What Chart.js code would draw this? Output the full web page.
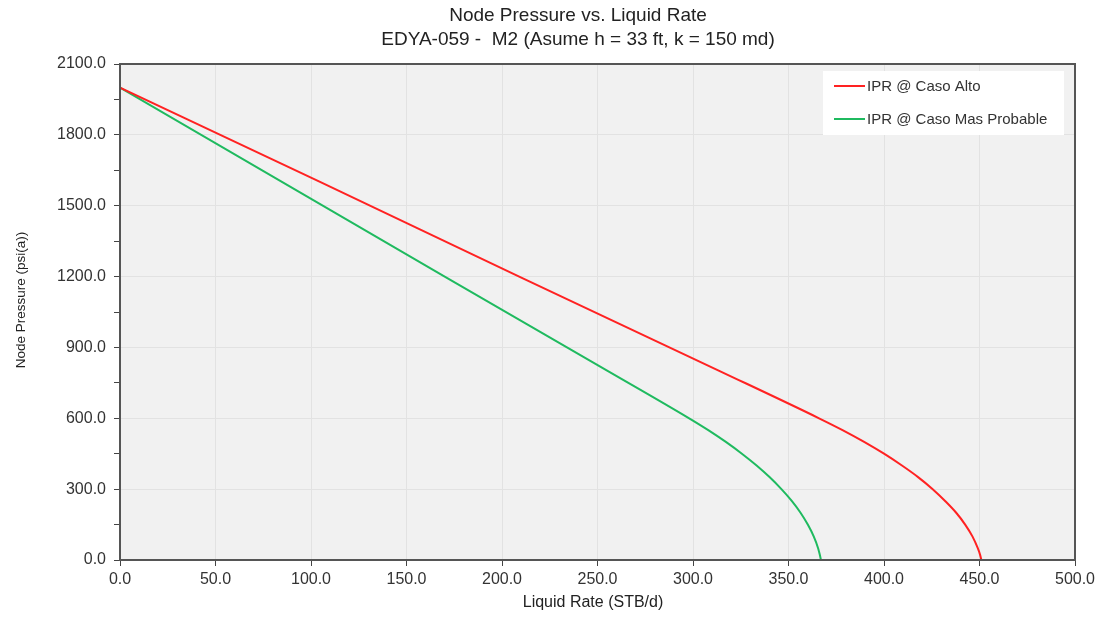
<!DOCTYPE html>
<html>
<head>
<meta charset="utf-8">
<script src="https://cdn.jsdelivr.net/npm/chart.js@4.4.1/dist/chart.umd.min.js"></script>
<style>
  html, body { margin: 0; padding: 0; background: #fff; }
  #wrap { width: 1103px; height: 618px; position: relative; }
</style>
</head>
<body>
<div id="wrap"><canvas id="ipr"></canvas></div>
<script>
  // IPR curves (rate STB/d, pressure psi(a))
  const TITLE_LINES = ['Node Pressure vs. Liquid Rate', 'EDYA-059 -  M2 (Asume h = 33 ft, k = 150 md)'];
  const X_TITLE = 'Liquid Rate (STB/d)';
  const Y_TITLE = 'Node Pressure (psi(a))';

  const PRESSURE = [2000, 1600, 1200, 800, 600, 550, 500, 450, 400, 350, 300, 250, 200, 150, 100, 50, 25, 0];
  const RATE_ALTO = [0, 105, 209, 314, 366, 378.3, 389.6, 400, 409.4, 418, 425.5, 432, 437.8, 442.5, 446.3, 449.1, 450.2, 451];
  const RATE_PROBABLE = [0, 85, 170, 255.5, 298, 308, 317.2, 325.6, 333.3, 340.2, 346.3, 351.7, 356.3, 360.1, 363.2, 365.5, 366.3, 367];

  const SERIES = [
    { label: 'IPR @ Caso Alto', rates: RATE_ALTO, color: '#ff2222' },
    { label: 'IPR @ Caso Mas Probable', rates: RATE_PROBABLE, color: '#1fba5f' },
  ];

  const FONT = 'Arial, "Liberation Sans", sans-serif';
  const fmt1 = v => Number(v).toFixed(1);

  // gray plot background + frame, titles, inner legend
  const decor = {
    id: 'decor',
    beforeDraw(chart) {
      const { ctx, chartArea: a } = chart;
      ctx.save();
      ctx.fillStyle = '#f1f1f1';
      ctx.fillRect(a.left, a.top, a.right - a.left, a.bottom - a.top);
      ctx.restore();
    },
    afterDraw(chart) {
      const { ctx, chartArea: a } = chart;
      ctx.save();
      ctx.strokeStyle = '#555';
      ctx.lineWidth = 2;
      ctx.strokeRect(a.left, a.top, a.right - a.left, a.bottom - a.top);

      ctx.fillStyle = '#222';
      ctx.font = '19px ' + FONT;
      ctx.textAlign = 'center';
      ctx.textBaseline = 'middle';
      TITLE_LINES.forEach((t, i) => ctx.fillText(t, 578, 16 + i * 24));

      ctx.font = '16px ' + FONT;
      ctx.fillText(X_TITLE, 593, 603);
      ctx.save();
      ctx.translate(21, 300);
      ctx.rotate(-Math.PI / 2);
      ctx.font = '13.5px ' + FONT;
      ctx.fillText(Y_TITLE, 0, 0);
      ctx.restore();

      // legend box
      const bx = a.right - 252, by = a.top + 7, bw = 241, bh = 64;
      ctx.fillStyle = '#fff';
      ctx.fillRect(bx, by, bw, bh);
      ctx.font = '15px ' + FONT;
      ctx.textAlign = 'left';
      chart.data.datasets.forEach((d, i) => {
        const y = by + 15 + i * 33;
        ctx.strokeStyle = d.borderColor;
        ctx.lineWidth = 2;
        ctx.beginPath();
        ctx.moveTo(bx + 11, y);
        ctx.lineTo(bx + 42, y);
        ctx.stroke();
        ctx.fillStyle = '#333';
        ctx.fillText(d.label, bx + 44, y + 1);
      });
      ctx.restore();
    },
  };

  new Chart(document.getElementById('ipr'), {
    type: 'scatter',
    data: {
      datasets: SERIES.map(s => ({
        label: s.label,
        data: s.rates.map((q, i) => ({ x: q, y: PRESSURE[i] })),
        showLine: true,
        borderColor: s.color,
        backgroundColor: s.color,
        borderWidth: 2,
        pointRadius: 0,
        cubicInterpolationMode: 'monotone',
      })),
    },
    options: {
      responsive: true, maintainAspectRatio: false, animation: false,
      layout: { padding: { top: 64, right: 28, left: 0, bottom: 0 } },
      plugins: { legend: { display: false }, tooltip: { enabled: false }, title: { display: false } },
      scales: {
        x: {
          type: 'linear', min: 0, max: 500,
          afterFit: s => { s.height = 58; },
          border: { color: '#555', width: 2 },
          grid: { color: '#e2e2e2', tickColor: '#444', tickLength: 6 },
          ticks: { stepSize: 50, color: '#333', font: { family: FONT, size: 16 }, padding: 4, callback: v => fmt1(v) },
        },
        y: {
          type: 'linear', min: 0, max: 2100,
          afterFit: s => { s.width = 120; },
          border: { color: '#555', width: 2 },
          grid: {
            color: c => (c.tick && c.tick.value % 300 === 0) ? '#e2e2e2' : 'rgba(0,0,0,0)',
            tickColor: '#444', tickLength: 6,
          },
          ticks: {
            stepSize: 150, color: '#333', font: { family: FONT, size: 16 }, padding: 8, autoSkip: false,
            callback: v => (v % 300 === 0 ? fmt1(v) : ''),
          },
        },
      },
    },
    plugins: [decor],
  });
</script>
</body>
</html>
